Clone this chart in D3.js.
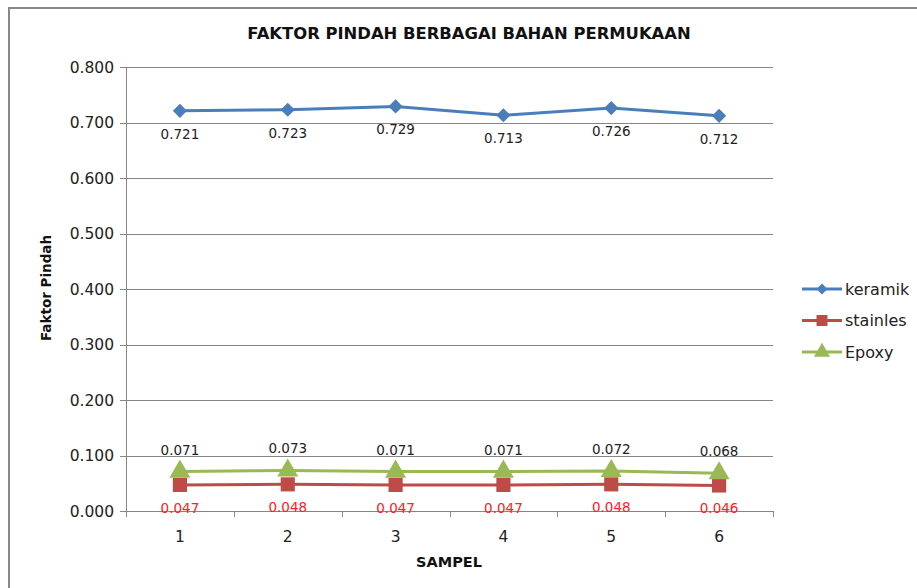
<!DOCTYPE html>
<html>
<head>
<meta charset="utf-8">
<script src="https://cdnjs.cloudflare.com/ajax/libs/d3/7.8.5/d3.min.js"></script>
<style>
  body { margin: 0; background: #fff; }
  svg { display: block; font-family: "DejaVu Sans", sans-serif; }
</style>
</head>
<body>
<svg id="chart" width="917" height="588"></svg>
<script>
var categories = ["1", "2", "3", "4", "5", "6"];
var keramik = [0.721, 0.723, 0.729, 0.713, 0.726, 0.712];
var stainles = [0.047, 0.048, 0.047, 0.047, 0.048, 0.046];
var epoxy = [0.071, 0.073, 0.071, 0.071, 0.072, 0.068];
var yTicks = [0, 0.1, 0.2, 0.3, 0.4, 0.5, 0.6, 0.7, 0.8];

// rotated square for the diamond marker
var wideDiamond = {
  draw: function(ctx, size) {
    var r = Math.sqrt(size) / 2 * Math.SQRT2;
    ctx.moveTo(0, -r); ctx.lineTo(r, 0); ctx.lineTo(0, r); ctx.lineTo(-r, 0); ctx.closePath();
  }
};

var series = [
  { name: "keramik", values: keramik, color: "#4a7ebb", symbol: wideDiamond, size: 100, labelDy: 28, labelColor: "#222" },
  { name: "stainles", values: stainles, color: "#be4b48", symbol: d3.symbolSquare, size: 200, labelDy: 28, labelColor: "#ff2020" },
  { name: "Epoxy", values: epoxy, color: "#98b954", symbol: d3.symbolTriangle, size: 190, labelDy: -17, labelColor: "#222" }
];

var svg = d3.select("#chart");
var plotL = 126, plotR = 773, plotT = 67, plotB = 511;

// outer frame (only top and left edges visible)
svg.append("path")
  .attr("d", "M9,588 V8 H917")
  .attr("fill", "none")
  .attr("stroke", "#888")
  .attr("stroke-width", 2);

var x = d3.scaleBand().domain(categories).range([plotL, plotR]);
var y = d3.scaleLinear().domain([0, 0.8]).range([plotB, plotT]);

// grid
svg.append("g").selectAll("line")
  .data(yTicks)
  .join("line")
  .attr("x1", plotL - 6).attr("x2", plotR)
  .attr("y1", d => Math.round(y(d)) + 0.5).attr("y2", d => Math.round(y(d)) + 0.5)
  .attr("stroke", "#868686");

// y axis line
svg.append("line")
  .attr("x1", plotL + 0.5).attr("x2", plotL + 0.5)
  .attr("y1", plotT).attr("y2", plotB)
  .attr("stroke", "#868686");

// x axis ticks
var xTickPos = categories.map(c => x(c)).concat([plotR]);
svg.append("g").selectAll("line")
  .data(xTickPos)
  .join("line")
  .attr("x1", d => Math.round(d) + 0.5).attr("x2", d => Math.round(d) + 0.5)
  .attr("y1", plotB).attr("y2", plotB + 6)
  .attr("stroke", "#868686");

// y tick labels
svg.append("g").selectAll("text")
  .data(yTicks)
  .join("text")
  .attr("x", plotL - 12)
  .attr("y", d => y(d) + 5.5)
  .attr("text-anchor", "end")
  .attr("font-size", 15.5)
  .attr("fill", "#222")
  .text(d => d3.format(".3f")(d));

// x tick labels
svg.append("g").selectAll("text")
  .data(categories)
  .join("text")
  .attr("x", d => x(d) + x.bandwidth() / 2)
  .attr("y", plotB + 31)
  .attr("text-anchor", "middle")
  .attr("font-size", 15.5)
  .attr("fill", "#222")
  .text(d => d);

// titles
svg.append("text")
  .attr("x", 469).attr("y", 39)
  .attr("text-anchor", "middle")
  .attr("font-size", 16.4).attr("font-weight", "bold")
  .attr("fill", "#111")
  .text("FAKTOR PINDAH BERBAGAI BAHAN PERMUKAAN");

svg.append("text")
  .attr("x", 449).attr("y", 567)
  .attr("text-anchor", "middle")
  .attr("font-size", 14.5).attr("font-weight", "bold")
  .attr("fill", "#111")
  .text("SAMPEL");

svg.append("text")
  .attr("transform", "translate(51,288) rotate(-90)")
  .attr("text-anchor", "middle")
  .attr("font-size", 13.5).attr("font-weight", "bold")
  .attr("fill", "#111")
  .text("Faktor Pindah");

var line = d3.line()
  .x((d, i) => x(categories[i]) + x.bandwidth() / 2)
  .y(d => y(d));

series.forEach(function(s) {
  var g = svg.append("g");
  g.append("path")
    .attr("d", line(s.values))
    .attr("fill", "none")
    .attr("stroke", s.color)
    .attr("stroke-width", 3);
  g.selectAll("path.mark")
    .data(s.values)
    .join("path")
    .attr("class", "mark")
    .attr("transform", (d, i) => "translate(" + (x(categories[i]) + x.bandwidth() / 2) + "," + y(d) + ")")
    .attr("d", d3.symbol().type(s.symbol).size(s.size))
    .attr("fill", s.color);
  g.selectAll("text")
    .data(s.values)
    .join("text")
    .attr("x", (d, i) => x(categories[i]) + x.bandwidth() / 2)
    .attr("y", d => y(d) + s.labelDy)
    .attr("text-anchor", "middle")
    .attr("font-size", 13.5)
    .attr("fill", s.labelColor)
    .text(d => d3.format(".3f")(d));
});

// legend
var legend = svg.append("g").selectAll("g")
  .data(series)
  .join("g")
  .attr("transform", (d, i) => "translate(802," + (289 + i * 31.5) + ")");
legend.append("line")
  .attr("x1", 0).attr("x2", 40)
  .attr("stroke", d => d.color)
  .attr("stroke-width", 3);
legend.append("path")
  .attr("transform", "translate(20,0)")
  .attr("d", d => d3.symbol().type(d.symbol).size(d.size * 0.6)())
  .attr("fill", d => d.color);
legend.append("text")
  .attr("x", 43).attr("y", 5.5)
  .attr("font-size", 16)
  .attr("fill", "#222")
  .text(d => d.name);
</script>
</body>
</html>
